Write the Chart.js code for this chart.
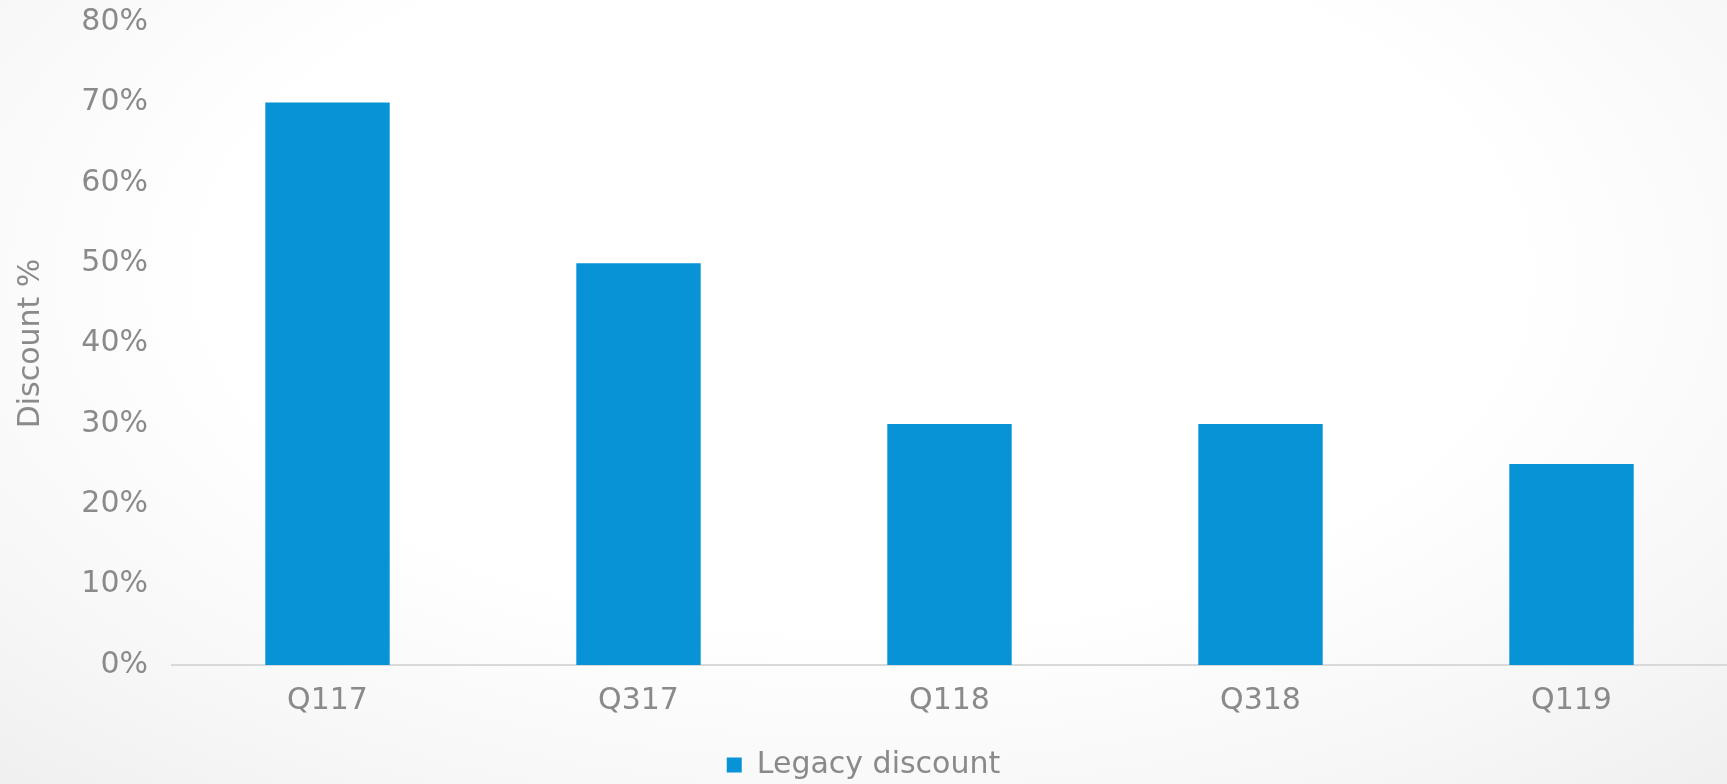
<!DOCTYPE html>
<html>
<head>
<meta charset="utf-8">
<title>Legacy discount</title>
<script src="https://cdn.jsdelivr.net/npm/chart.js@4"></script>
<style>
  html, body {
    margin: 0;
    padding: 0;
    width: 1727px;
    height: 784px;
    overflow: hidden;
  }
  body {
    background: radial-gradient(ellipse 75% 90% at 50% 35%, #ffffff 50%, #f7f7f7 78%, #efefef 100%);
  }
  #chart-wrap {
    position: relative;
    width: 1727px;
    height: 784px;
  }
</style>
</head>
<body>
<div id="chart-wrap">
  <canvas id="discount-chart"></canvas>
</div>
<script>
  // quarters on the x axis
  const quarters = ["Q117", "Q317", "Q118", "Q318", "Q119"];
  // legacy discount per quarter, in percent
  const legacyDiscount = [70, 50, 30, 30, 25];
  // y axis range and step, in percent
  const yMin = 0;
  const yMax = 80;
  const yStep = 10;

  const textColor = "#8a8a8a";
  const barColor = "#0793d6";
  const fontFamily = "'DejaVu Sans', sans-serif";
  const labelFont = { family: fontFamily, size: 30 };

  const ctx = document.getElementById("discount-chart").getContext("2d");
  const discountChart = new Chart(ctx, {
    type: "bar",
    data: {
      labels: quarters,
      datasets: [
        {
          label: "Legacy discount",
          data: legacyDiscount,
          backgroundColor: barColor,
          borderWidth: 0,
          barPercentage: 0.4,
          categoryPercentage: 1,
        },
      ],
    },
    options: {
      responsive: true,
      maintainAspectRatio: false,
      animation: false,
      layout: {
        padding: { top: 22, right: 0, bottom: -6, left: 0 },
      },
      plugins: {
        tooltip: { enabled: false },
        legend: {
          position: "bottom",
          labels: {
            boxWidth: 15,
            boxHeight: 15,
            padding: 2,
            color: textColor,
            font: labelFont,
          },
        },
      },
      scales: {
        x: {
          grid: { display: false, drawTicks: false },
          border: { display: true, color: "#d9d9d9", width: 2 },
          ticks: {
            color: textColor,
            padding: 18,
            font: labelFont,
          },
          afterFit: function (scale) {
            scale.height = 83;
          },
        },
        y: {
          min: yMin,
          max: yMax,
          // hidden tick marks keep the labels clear of the bars
          // without pushing the top of the plot down
          grid: { display: false, drawTicks: true, tickLength: 20 },
          border: { display: false },
          ticks: {
            stepSize: yStep,
            color: textColor,
            padding: 4,
            font: labelFont,
            callback: function (value) {
              return value + "%";
            },
          },
          title: {
            display: true,
            text: "Discount %",
            color: textColor,
            padding: { top: 13, bottom: 4 },
            font: labelFont,
          },
          afterFit: function (scale) {
            scale.width = 172;
          },
        },
      },
    },
  });
</script>
</body>
</html>
